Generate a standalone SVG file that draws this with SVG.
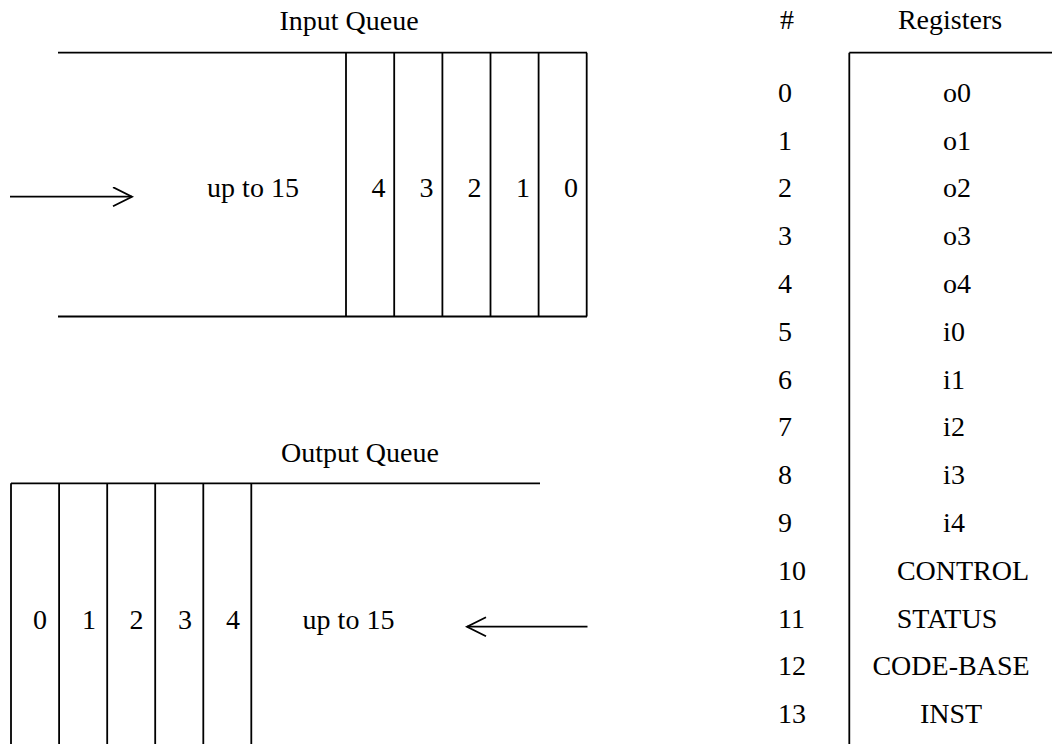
<svg xmlns="http://www.w3.org/2000/svg" width="1052" height="744" viewBox="0 0 1052 744">
<style>
text{font-family:"Liberation Serif","Times New Roman",serif;font-size:28px;fill:#000}
.c{text-anchor:middle}
.ln{stroke:#000;stroke-width:1.8;fill:none}
</style>
<defs>
<marker id="ah" markerWidth="24" markerHeight="24" refX="20" refY="10" orient="auto" markerUnits="userSpaceOnUse">
<path d="M1,0.5 L20,10 L1,19.5" fill="none" stroke="#000" stroke-width="1.8"/>
</marker>
</defs>
<rect width="1052" height="744" fill="#fff"/>

<g id="input-queue">
<text class="c" x="349" y="30">Input Queue</text>
<path class="ln" d="M58,52.7 H587 M58,316.5 H587 M346,52.7 V316.5 M394.2,52.7 V316.5 M442.4,52.7 V316.5 M490.5,52.7 V316.5 M538.6,52.7 V316.5 M586.7,52.7 V316.5"/>
<text class="c" x="253" y="197">up to 15</text>
<text class="c" x="378.5" y="197">4</text>
<text class="c" x="426.5" y="197">3</text>
<text class="c" x="474.5" y="197">2</text>
<text class="c" x="523" y="197">1</text>
<text class="c" x="571" y="197">0</text>
</g>

<g id="output-queue">
<text class="c" x="360" y="461.5">Output Queue</text>
<path class="ln" d="M11,483.3 H540 M11,483.3 V744 M59.1,483.3 V744 M107.2,483.3 V744 M155.2,483.3 V744 M203.3,483.3 V744 M251.3,483.3 V744"/>
<text class="c" x="40" y="629">0</text>
<text class="c" x="89" y="629">1</text>
<text class="c" x="136.5" y="629">2</text>
<text class="c" x="185" y="629">3</text>
<text class="c" x="233" y="629">4</text>
<text class="c" x="348.5" y="629">up to 15</text>
</g>

<g id="registers">
<text class="c" x="787" y="29">#</text>
<text class="c" x="950" y="29">Registers</text>
<path class="ln" d="M849.3,52.7 H1052 M849.3,52.7 V744"/>
<g>
<text x="778" y="101.7">0</text>
<text x="778" y="149.5">1</text>
<text x="778" y="197.3">2</text>
<text x="778" y="245.1">3</text>
<text x="778" y="292.9">4</text>
<text x="778" y="340.7">5</text>
<text x="778" y="388.5">6</text>
<text x="778" y="436.3">7</text>
<text x="778" y="484.1">8</text>
<text x="778" y="531.9">9</text>
<text x="778" y="579.7">10</text>
<text x="778" y="627.5">11</text>
<text x="778" y="675.3">12</text>
<text x="778" y="723.1">13</text>
</g>
<g>
<text class="c" x="957" y="101.7">o0</text>
<text class="c" x="957" y="149.5">o1</text>
<text class="c" x="957" y="197.3">o2</text>
<text class="c" x="957" y="245.1">o3</text>
<text class="c" x="957" y="292.9">o4</text>
<text class="c" x="954" y="340.7">i0</text>
<text class="c" x="954" y="388.5">i1</text>
<text class="c" x="954" y="436.3">i2</text>
<text class="c" x="954" y="484.1">i3</text>
<text class="c" x="954" y="531.9">i4</text>
<text class="c" x="963" y="579.7">CONTROL</text>
<text class="c" x="947" y="627.5">STATUS</text>
<text class="c" x="951" y="675.3">CODE-BASE</text>
<text class="c" x="951" y="723.1">INST</text>
</g>
</g>

<g id="connectors">
<line class="ln" x1="10" y1="196.7" x2="132" y2="196.7" marker-end="url(#ah)"/>
<line class="ln" x1="587.5" y1="626.7" x2="467" y2="626.7" marker-end="url(#ah)"/>
</g>
</svg>
